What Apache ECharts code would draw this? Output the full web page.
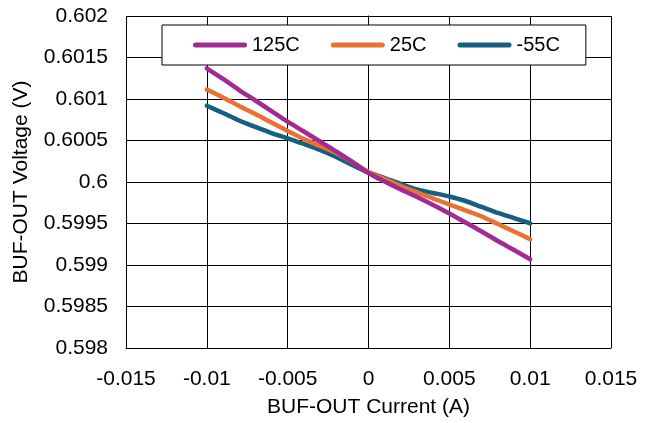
<!DOCTYPE html>
<html>
<head>
<meta charset="utf-8">
<script src="https://cdn.jsdelivr.net/npm/echarts@6/dist/echarts.min.js"></script>
<style>
  html, body { margin: 0; padding: 0; background: #fff; }
  #chart { width: 655px; height: 423px; }
</style>
</head>
<body>
<div id="chart"></div>
<script>
// Load current (A), sampled every 1 mA
const current = [-0.010, -0.009, -0.008, -0.007, -0.006, -0.005, -0.004, -0.003, -0.002, -0.001,
                 0.000, 0.001, 0.002, 0.003, 0.004, 0.005, 0.006, 0.007, 0.008, 0.009, 0.010];

// BUF-OUT voltage (V) at each temperature
const v125C = [0.601370, 0.601241, 0.601108, 0.600982, 0.600855, 0.600727, 0.600608, 0.600488, 0.600368, 0.600241,
               0.600109, 0.600006, 0.599910, 0.599819, 0.599723, 0.599621, 0.599512, 0.599404, 0.599289, 0.599181, 0.599069];
const v25C  = [0.601114, 0.601018, 0.600916, 0.600819, 0.600717, 0.600614, 0.600518, 0.600434, 0.600349, 0.600241,
               0.600121, 0.600036, 0.599952, 0.599874, 0.599801, 0.599729, 0.599657, 0.599584, 0.599494, 0.599404, 0.599310];
const vM55C = [0.600919, 0.600831, 0.600741, 0.600663, 0.600590, 0.600527, 0.600458, 0.600386, 0.600301, 0.600205,
               0.600115, 0.600048, 0.599976, 0.599910, 0.599868, 0.599825, 0.599771, 0.599699, 0.599627, 0.599566, 0.599503];

const seriesNames = ['125C', '25C', '-55C'];
const seriesColors = ['#A02B93', '#E97132', '#156082'];

// Axis ranges
const xMin = -0.015, xMax = 0.015, xStep = 0.005;
const yMin = 0.598, yMax = 0.602, yStep = 0.0005;

const FONT = '"Liberation Sans", Arial, sans-serif';
const pair = (xs, ys) => xs.map((x, i) => [x, ys[i]]);
const fmt = v => String(parseFloat(v.toFixed(4)));

const legendIcon = 'path://M2.5,0 L51.5,0 A2.5,2.5 0 0 1 51.5,5 L2.5,5 A2.5,2.5 0 0 1 2.5,0 Z';

const chart = echarts.init(document.getElementById('chart'), null, { renderer: 'canvas' });

chart.setOption({
  backgroundColor: '#ffffff',
  animation: false,
  textStyle: { fontFamily: FONT, color: '#000' },
  grid: { left: 126, right: 44, top: 16, bottom: 75, containLabel: false },
  legend: {
    data: seriesNames,
    left: 162,
    top: 25,
    padding: [10, 26, 10, 31],
    itemWidth: 54,
    itemHeight: 5,
    itemGap: 31,
    icon: legendIcon,
    backgroundColor: '#fff',
    borderColor: '#000',
    borderWidth: 1,
    borderRadius: 0,
    textStyle: { fontFamily: FONT, fontSize: 20, color: '#000', padding: [0, 0, 0, 0] }
  },
  xAxis: {
    type: 'value',
    min: xMin, max: xMax, interval: xStep,
    name: 'BUF-OUT Current (A)',
    nameLocation: 'middle',
    nameGap: 49,
    nameTextStyle: { fontFamily: FONT, fontSize: 21, color: '#000' },
    axisLine: { show: true, onZero: false, lineStyle: { color: '#000', width: 1 } },
    axisTick: { show: false },
    axisLabel: { margin: 21, fontFamily: FONT, fontSize: 21, color: '#000', formatter: fmt },
    splitLine: { show: true, lineStyle: { color: '#000', width: 1 } }
  },
  yAxis: {
    type: 'value',
    min: yMin, max: yMax, interval: yStep,
    name: 'BUF-OUT Voltage (V)',
    nameLocation: 'middle',
    nameGap: 94,
    nameTextStyle: { fontFamily: FONT, fontSize: 21, color: '#000' },
    axisLine: { show: true, lineStyle: { color: '#000', width: 1 } },
    axisTick: { show: false },
    axisLabel: { margin: 18, fontFamily: FONT, fontSize: 21, color: '#000', formatter: fmt },
    splitLine: { show: true, lineStyle: { color: '#000', width: 1 } }
  },
  series: [v125C, v25C, vM55C].map((ys, i) => ({
    name: seriesNames[i],
    type: 'line',
    data: pair(current, ys),
    smooth: 0.3,
    symbol: 'none',
    color: seriesColors[i],
    lineStyle: { color: seriesColors[i], width: 4.5, cap: 'round', join: 'round' },
    z: 3 - i
  }))
});
</script>
</body>
</html>
